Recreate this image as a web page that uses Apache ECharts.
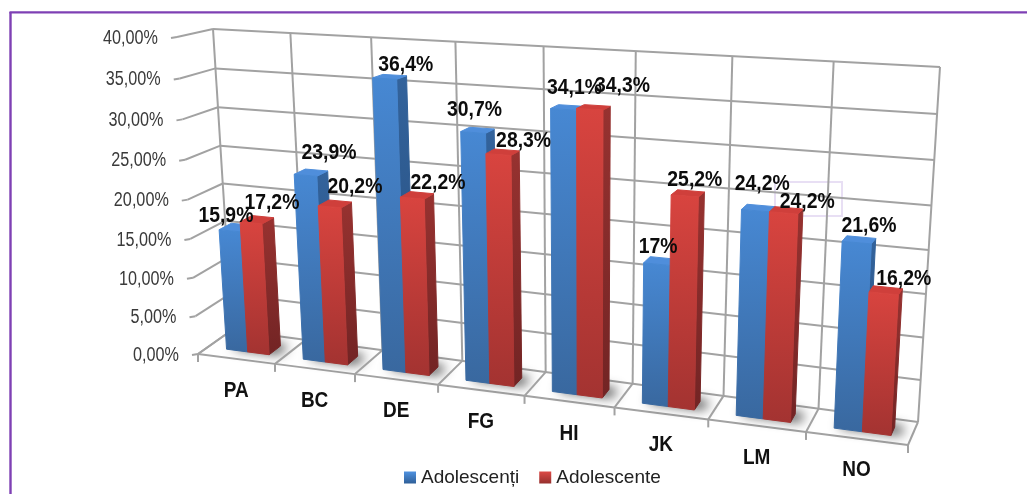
<!DOCTYPE html>
<html>
<head>
<meta charset="utf-8">
<style>html,body{margin:0;padding:0;background:#fff}#chart{width:1027px;height:494px}</style>
<script src="https://cdn.jsdelivr.net/npm/echarts@6/dist/echarts.min.js"></script>
</head>
<body>
<div id="chart"></div>
<script>
const categories = ['PA', 'BC', 'DE', 'FG', 'HI', 'JK', 'LM', 'NO'];
const adolescenti = [15.9, 23.9, 36.4, 30.7, 34.1, 17, 24.2, 21.6];
const adolescente = [17.2, 20.2, 22.2, 28.3, 34.3, 25.2, 24.2, 16.2];
const adolescentiLabels = ['15,9%', '23,9%', '36,4%', '30,7%', '34,1%', '17%', '24,2%', '21,6%'];
const adolescenteLabels = ['17,2%', '20,2%', '22,2%', '28,3%', '34,3%', '25,2%', '24,2%', '16,2%'];
const yTicks = [0, 5, 10, 15, 20, 25, 30, 35, 40];
const yTickLabels = ['0,00%', '5,00%', '10,00%', '15,00%', '20,00%', '25,00%', '30,00%', '35,00%', '40,00%'];

// Label nudges, in pixels, from the centre of each bar's top face
const blueNudge = [[-10, -12], [18, -20], [16, -12], [-3, -20], [7, -20], [-2, -14], [4, -24], [10, -14]];
const redNudge = [[15, -17], [20, -17], [21, -13], [21, -11], [29, -21], [7, -14], [21, -8], [18, -11]];

// Corners of the plot box on screen: front plane and back wall
const frontPlane = { bl: [198, 354], br: [908, 445], tr: [928, 75], tl: [177, 37] };
const backPlane = { bl: [232, 330], br: [918, 422], tr: [940, 67], tl: [213, 29] };

function unitSquareToQuad(q) {
  const [x0, y0] = q.bl, [x1, y1] = q.br, [x2, y2] = q.tr, [x3, y3] = q.tl;
  const dx1 = x1 - x2, dx2 = x3 - x2, sx = x0 - x1 + x2 - x3;
  const dy1 = y1 - y2, dy2 = y3 - y2, sy = y0 - y1 + y2 - y3;
  const den = dx1 * dy2 - dx2 * dy1;
  const g = (sx * dy2 - dx2 * sy) / den, h = (dx1 * sy - sx * dy1) / den;
  const a = x1 - x0 + g * x1, b = x3 - x0 + h * x3, c = x0;
  const d = y1 - y0 + g * y1, e = y3 - y0 + h * y3, f = y0;
  return (u, v) => {
    const w = g * u + h * v + 1;
    return [(a * u + b * v + c) / w, (d * u + e * v + f) / w];
  };
}
const projFront = unitSquareToQuad(frontPlane);
const projBack = unitSquareToQuad(backPlane);

// Position in the box: u across, v up, depth 0 at the front and 1 at the back wall
function project(u, v, depth) {
  const a = projFront(u, v), b = projBack(u, v);
  return [a[0] + (b[0] - a[0]) * depth, a[1] + (b[1] - a[1]) * depth];
}

// Normalised box position of a data point, read through the cartesian axes
function toUnit(params, api, catIndex, value, bandFraction) {
  const cs = params.coordSys;
  const band = api.size([1, 0])[0];
  const p = api.coord([catIndex, value]);
  return {
    u: (p[0] - band / 2 + bandFraction * band - cs.x) / cs.width,
    v: 1 - (p[1] - cs.y) / cs.height
  };
}

const GRID_COLOR = '#a2a2a2';
const BAR_START = 0.245, BAR_WIDTH = 0.28, DEPTH_NEAR = 0.3, DEPTH_FAR = 0.66;
// Bars stand inside the box, so their height foreshortens slightly against the wall scale
const BAR_FORESHORTEN = 0.99;
const SHADOW_SHIFT = 3000;

function line(a, b, width) {
  return {
    type: 'line', silent: true,
    shape: { x1: a[0], y1: a[1], x2: b[0], y2: b[1] },
    style: { stroke: GRID_COLOR, lineWidth: width || 2 }
  };
}

function renderValueGrid(params, api) {
  const value = api.value(1);
  const { v } = toUnit(params, api, 0, value, 0);
  const front = project(0, v, 0), back = project(0, v, 1), right = project(1, v, 1);
  const children = [
    line(front, back), line(back, right),
    line([front[0] - 6, front[1] + 1], front),
    {
      type: 'text', silent: true,
      x: front[0] - 19, y: front[1] + 1, scaleY: 1.28,
      style: {
        text: yTickLabels[params.dataIndex], align: 'right', verticalAlign: 'middle',
        font: '16.2px "Liberation Sans"', fill: '#3a3a3a'
      }
    }
  ];
  return { type: 'group', children };
}

function renderCategoryGrid(params, api) {
  const i = api.value(0);
  const children = [];
  const addBoundary = (fraction) => {
    const { u } = toUnit(params, api, i, 0, fraction);
    const f = project(u, 0, 0), b = project(u, 0, 1), t = project(u, 1, 1);
    children.push(line(f, b), line(b, t), line(f, [f[0], f[1] + 8]));
  };
  addBoundary(0);
  if (i === categories.length - 1) addBoundary(1);
  const first = toUnit(params, api, i, 0, 0).u, last = toUnit(params, api, i, 0, 1).u;
  children.push(line(project(first, 0, 0), project(last, 0, 0)));
  const mid = project(toUnit(params, api, i, 0, 0.5).u, 0, 0);
  children.push({
    type: 'text', silent: true, x: mid[0], y: mid[1] + 32, scaleY: 1.14,
    style: {
      text: categories[i], align: 'center', verticalAlign: 'middle',
      font: 'bold 19px "Liberation Sans"', fill: '#111'
    }
  });
  // Soft contact shadow of the bar pair: the polygon sits off the page and only its blur lands on the floor
  const s0 = toUnit(params, api, i, 0, BAR_START + 0.04).u, s1 = toUnit(params, api, i, 0, BAR_START + BAR_WIDTH * 2 + 0.09).u;
  const points = [project(s0, 0, DEPTH_NEAR + 0.08), project(s1, 0, DEPTH_NEAR + 0.08), project(s1, 0, DEPTH_FAR + 0.05), project(s0, 0, DEPTH_FAR + 0.05)]
    .map((p) => [p[0] - SHADOW_SHIFT, p[1]]);
  children.push({
    type: 'polygon', silent: true,
    shape: { points },
    style: { fill: '#000', shadowBlur: 12, shadowColor: 'rgba(50,50,50,1)', shadowOffsetX: SHADOW_SHIFT }
  });
  return { type: 'group', children };
}

function barRenderer(slot, palette) {
  return function (params, api) {
    const i = api.value(0), value = api.value(1);
    const x0 = BAR_START + slot * BAR_WIDTH, x1 = x0 + BAR_WIDTH;
    const l = toUnit(params, api, i, 0, x0).u, r = toUnit(params, api, i, 0, x1).u;
    const v = toUnit(params, api, i, value, 0).v * BAR_FORESHORTEN;
    const fbl = project(l, 0, DEPTH_NEAR), fbr = project(r, 0, DEPTH_NEAR);
    const ftl = project(l, v, DEPTH_NEAR), ftr = project(r, v, DEPTH_NEAR);
    const bbr = project(r, 0, DEPTH_FAR), btl = project(l, v, DEPTH_FAR), btr = project(r, v, DEPTH_FAR);
    const vertical = (top, bottom) => new echarts.graphic.LinearGradient(0, 0, 0, 1, [
      { offset: 0, color: top }, { offset: 1, color: bottom }
    ]);
    const face = (points, fill) => ({
      type: 'polygon', shape: { points },
      style: { fill, stroke: fill, lineWidth: 1, lineJoin: 'round' }
    });
    return {
      type: 'group',
      children: [
        face([fbr, ftr, btr, bbr], vertical(palette.sideTop, palette.sideBottom)),
        face([ftl, ftr, btr, btl], palette.cap),
        face([fbl, fbr, ftr, ftl], vertical(palette.frontTop, palette.frontBottom))
      ]
    };
  };
}

function labelRenderer(slot, texts, nudges) {
  return function (params, api) {
    const i = api.value(0), value = api.value(1);
    const mid = BAR_START + (slot + 0.5) * BAR_WIDTH;
    const u = toUnit(params, api, i, 0, mid).u;
    const v = toUnit(params, api, i, value, 0).v * BAR_FORESHORTEN;
    const top = project(u, v, (DEPTH_NEAR + DEPTH_FAR) / 2);
    const nudge = nudges[params.dataIndex];
    return {
      type: 'text', silent: true,
      x: top[0] + nudge[0], y: top[1] + nudge[1], scaleY: 1.14,
      style: {
        text: texts[params.dataIndex], align: 'center', verticalAlign: 'middle',
        font: 'bold 19.4px "Liberation Sans"', fill: '#0c0c0c'
      }
    };
  };
}

const bluePalette = {
  frontTop: '#4788d3', frontBottom: '#39689f', sideTop: '#33639c', sideBottom: '#264d7c', cap: '#4f8edb'
};
const redPalette = {
  frontTop: '#d8443f', frontBottom: '#a33331', sideTop: '#973230', sideBottom: '#722424', cap: '#cf3f3b'
};

const pairs = (list) => list.map((value, i) => [i, value]);
const markerFill = (a, b) => new echarts.graphic.LinearGradient(0, 0, 0, 1, [
  { offset: 0, color: a }, { offset: 1, color: b }
]);

const chart = echarts.init(document.getElementById('chart'), null, { renderer: 'canvas' });
chart.setOption({
  animation: false,
  backgroundColor: '#ffffff',
  grid: { left: 0, right: 0, top: 0, bottom: 0 },
  xAxis: { type: 'category', data: categories, show: false },
  yAxis: { type: 'value', min: 0, max: 40, interval: 5, show: false },
  legend: {
    data: ['Adolescenți', 'Adolescente'],
    left: 399, top: 463,
    itemWidth: 12, itemHeight: 12, itemGap: 20,
    icon: 'rect',
    textStyle: { fontFamily: 'Liberation Sans', fontSize: 19, color: '#222' }
  },
  graphic: [
    { type: 'line', shape: { x1: 10.5, y1: 12, x2: 10.5, y2: 494 }, style: { stroke: '#7e40b4', lineWidth: 2.4 }, silent: true },
    { type: 'line', shape: { x1: 9.5, y1: 12.3, x2: 1027, y2: 12.3 }, style: { stroke: '#7e40b4', lineWidth: 2.2 }, silent: true },
    { type: 'rect', shape: { x: 775, y: 182, width: 67, height: 34 }, style: { fill: 'none', stroke: 'rgba(150,110,205,0.22)', lineWidth: 2 }, silent: true, z: 1 }
  ],
  series: [
    { type: 'custom', name: 'value grid', coordinateSystem: 'cartesian2d', z: 1, silent: true, clip: false,
      data: yTicks.map((t) => [0, t]), encode: { x: 0, y: 1 }, renderItem: renderValueGrid },
    { type: 'custom', name: 'category grid', coordinateSystem: 'cartesian2d', z: 1, silent: true, clip: false,
      data: categories.map((c, i) => [i, 0]), encode: { x: 0, y: 1 }, renderItem: renderCategoryGrid },
    { type: 'custom', name: 'Adolescenți', coordinateSystem: 'cartesian2d', z: 2, clip: false,
      itemStyle: { color: markerFill('#4f92e0', '#2f5f98') },
      data: pairs(adolescenti), encode: { x: 0, y: 1 }, renderItem: barRenderer(0, bluePalette) },
    { type: 'custom', name: 'Adolescente', coordinateSystem: 'cartesian2d', z: 3, clip: false,
      itemStyle: { color: markerFill('#dc4a46', '#96302e') },
      data: pairs(adolescente), encode: { x: 0, y: 1 }, renderItem: barRenderer(1, redPalette) },
    { type: 'custom', name: 'blue labels', coordinateSystem: 'cartesian2d', z: 5, silent: true, clip: false,
      data: pairs(adolescenti), encode: { x: 0, y: 1 }, renderItem: labelRenderer(0, adolescentiLabels, blueNudge) },
    { type: 'custom', name: 'red labels', coordinateSystem: 'cartesian2d', z: 5, silent: true, clip: false,
      data: pairs(adolescente), encode: { x: 0, y: 1 }, renderItem: labelRenderer(1, adolescenteLabels, redNudge) }
  ]
});
</script>
</body>
</html>
